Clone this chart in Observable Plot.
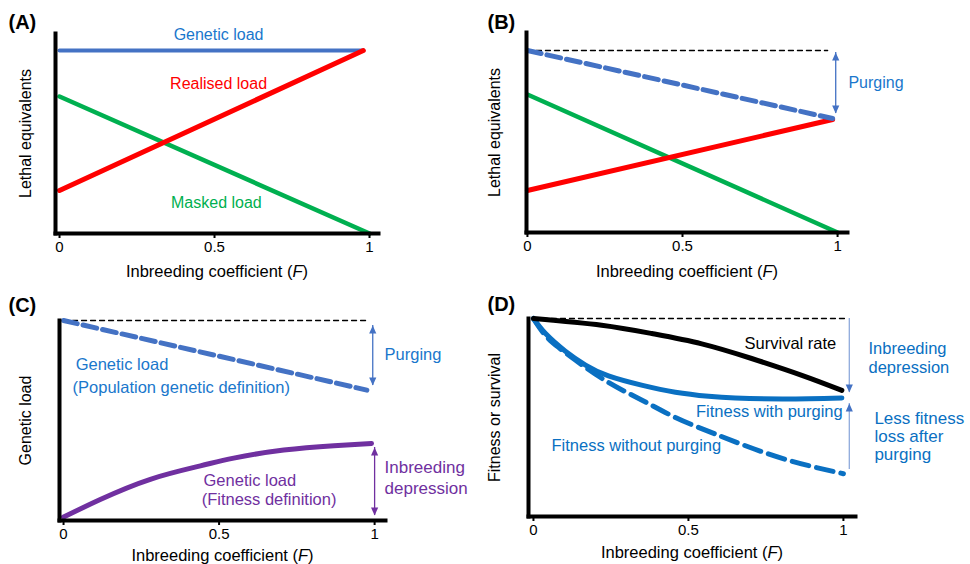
<!DOCTYPE html>
<html><head><meta charset="utf-8">
<script src="https://cdn.jsdelivr.net/npm/d3@7"></script>
<script src="https://cdn.jsdelivr.net/npm/@observablehq/plot@0.6"></script>
<style>
body{margin:0;background:#fff;}
#wrap{position:relative;width:970px;height:564px;overflow:hidden;}
.panel{position:absolute;width:485px;height:282px;}
.panel svg{overflow:visible;}
</style></head><body><div id="wrap"></div>
<script>
const FONT = '"Liberation Sans", Arial, Helvetica, sans-serif';
const F_TICKS = [0, 0.5, 1];
const X_LABEL = "Inbreeding coefficient (F)";

// ---- Panel (A) ----
const A_F = [0, 0.98];
const A_GENETIC = [0.915, 0.915];
const A_REALISED = [0.215, 0.915];
const A_MASKED_F = [0, 1];
const A_MASKED = [0.685, 0];

// ---- Panel (B) ----
const B_F = [0, 0.984];
const B_GENETIC = [0.91, 0.57];
const B_REALISED = [0.21, 0.565];
const B_MASKED_F = [0, 1];
const B_MASKED = [0.69, 0];
const B_REF_F = [0, 0.968];
const B_REF = [0.91, 0.91];
const B_PURGE = [{F: 0.994, top: 0.9, bottom: 0.595}];

// ---- Panel (C) ----
const C_POP_F = [0, 0.975];
const C_POP = [1.0, 0.652];
const C_REF_F = [0, 0.977];
const C_REF = [1.0, 1.0];
const C_FIT_F = [0, 0.118, 0.279, 0.44, 0.547, 0.708, 0.869, 0.99];
const C_FIT = [0.017, 0.105, 0.206, 0.273, 0.312, 0.352, 0.374, 0.385];
const C_PURGE = [{F: 0.994, top: 0.975, bottom: 0.675}];
const C_ID = [{F: 1.0, top: 0.365, bottom: 0.025}];

// ---- Panel (D) ----
const D_SURV_F = [0, 0.22, 0.382, 0.543, 0.704, 0.866, 0.995];
const D_SURV = [1, 0.966, 0.924, 0.872, 0.798, 0.713, 0.637];
const D_WITH_F = [0, 0.039, 0.103, 0.168, 0.242, 0.352, 0.458, 0.565, 0.651, 0.812, 0.995];
const D_WITH = [1, 0.924, 0.835, 0.765, 0.71, 0.662, 0.628, 0.607, 0.598, 0.594, 0.599];
const D_WITHOUT_F = [0, 0.039, 0.081, 0.135, 0.242, 0.352, 0.458, 0.565, 0.651, 0.812, 1.0];
const D_WITHOUT = [1, 0.914, 0.854, 0.79, 0.677, 0.586, 0.5, 0.43, 0.377, 0.289, 0.216];
const D_REF_F = [0, 1.013];
const D_REF = [1, 1];
const D_ID = [{F: 1.019, top: 1.0, bottom: 0.626}];
const D_LESS = [{F: 1.019, top: 0.571, bottom: 0.237}];

// colours
const BLUE = "#4472C4", TBLUE = "#1a77cc", DBLUE = "#0a70c2", RED = "#ff0000",
      GREEN = "#00b050", PURPLE = "#7030a0", LIGHT = "#8faadc";

const tbl = (Fs, vs) => Fs.map((F, i) => ({F, v: vs[i]}));

const tipUp = {draw(ctx, size) { const s = Math.sqrt(size), h = s * 1.0, w = s * 0.9;
  ctx.moveTo(0, 0); ctx.lineTo(-w / 2, h); ctx.lineTo(w / 2, h); ctx.closePath(); }};
const tipDown = {draw(ctx, size) { const s = Math.sqrt(size), h = s * 1.0, w = s * 0.9;
  ctx.moveTo(0, 0); ctx.lineTo(-w / 2, -h); ctx.lineTo(w / 2, -h); ctx.closePath(); }};

function dblArrow(data, color, lineColor) {
  return [
    Plot.ruleX(data, {x: "F", y1: "bottom", y2: "top", stroke: lineColor || color, strokeWidth: 1.3}),
    Plot.dot(data, {x: "F", y: "top", symbol: tipUp, r: 4.5, fill: color, stroke: null}),
    Plot.dot(data, {x: "F", y: "bottom", symbol: tipDown, r: 4.5, fill: color, stroke: null})
  ];
}

function note(list, opts) {
  return Plot.text(list, {x: "F", y: "v", text: "t", lineAnchor: "middle", ...opts});
}

function panel({left, top, m, xDomain, marks, yLabel, yDx, tag, tagDx, tagDy, xDy}) {
  const svg = Plot.plot({
    width: 485, height: 282,
    marginLeft: m[0], marginRight: m[1], marginTop: m[2], marginBottom: m[3],
    x: {domain: xDomain},
    y: {domain: [0, 1], axis: null},
    style: {fontFamily: FONT, background: "transparent", overflow: "visible", color: "#000"},
    marks: [
      ...marks,
      Plot.frame({anchor: "left", strokeWidth: 4, strokeLinecap: "square", stroke: "#000"}),
      Plot.frame({anchor: "bottom", strokeWidth: 4, strokeLinecap: "square", stroke: "#000"}),
      Plot.axisX({ticks: F_TICKS, tickSize: 5, tickPadding: 3, fontSize: 15, strokeWidth: 2,
                  label: null, tickFormat: d => String(d)}),
      Plot.text([X_LABEL], {frameAnchor: "bottom", dy: xDy, fontSize: 16.5, lineAnchor: "middle", textAnchor: "middle"}),
      Plot.text([yLabel], {frameAnchor: "left", rotate: -90, dx: yDx, fontSize: 16, lineAnchor: "middle", textAnchor: "middle"}),
      Plot.text([tag], {frameAnchor: "top-left", dx: tagDx, dy: tagDy, fontSize: 20, fontWeight: "bold",
                        textAnchor: "start", lineAnchor: "middle"})
    ]
  });
  svg.querySelectorAll("text").forEach(t => {
    if (t.textContent === X_LABEL) t.innerHTML = 'Inbreeding coefficient (<tspan font-style="italic">F</tspan>)';
  });
  const div = document.createElement("div");
  div.className = "panel";
  div.style.left = left + "px"; div.style.top = top + "px";
  div.appendChild(svg);
  document.getElementById("wrap").appendChild(div);
}

// (A)
panel({
  left: 0, top: 0, m: [55, 107, 33, 49], xDomain: [-0.013, 1.029], yLabel: "Lethal equivalents", yDx: -30,
  tag: "(A)", tagDx: -47, tagDy: -11, xDy: 38,
  marks: [
    Plot.line(tbl(A_F, A_GENETIC), {x: "F", y: "v", stroke: BLUE, strokeWidth: 4}),
    Plot.line(tbl(A_MASKED_F, A_MASKED), {x: "F", y: "v", stroke: GREEN, strokeWidth: 4.5}),
    Plot.line(tbl(A_F, A_REALISED), {x: "F", y: "v", stroke: RED, strokeWidth: 5}),
    note([{t: "Genetic load", F: 0.513, v: 0.995}], {fill: TBLUE, fontSize: 16}),
    note([{t: "Realised load", F: 0.513, v: 0.75}], {fill: RED, fontSize: 16}),
    note([{t: "Masked load", F: 0.506, v: 0.155}], {fill: GREEN, fontSize: 16})
  ]
});

// (B)
panel({
  left: 485, top: 0, m: [41, 123, 32, 50], xDomain: [-0.003, 1.032], yLabel: "Lethal equivalents", yDx: -32,
  tag: "(B)", tagDx: -39, tagDy: -10, xDy: 39,
  marks: [
    Plot.line(tbl(B_REF_F, B_REF), {x: "F", y: "v", stroke: "#000", strokeWidth: 1.3, strokeDasharray: "5,4"}),
    Plot.line(tbl(B_MASKED_F, B_MASKED), {x: "F", y: "v", stroke: GREEN, strokeWidth: 4.5}),
    Plot.line(tbl(B_F, B_REALISED), {x: "F", y: "v", stroke: RED, strokeWidth: 5}),
    Plot.line(tbl(B_F, B_GENETIC), {x: "F", y: "v", stroke: BLUE, strokeWidth: 5, strokeDasharray: "14,6"}),
    ...dblArrow(B_PURGE, BLUE),
    note([{t: "Purging", F: 1.035, v: 0.75}], {fill: TBLUE, fontSize: 16, textAnchor: "start"})
  ]
});

// (C)
panel({
  left: 0, top: 282, m: [59, 100, 38, 44], xDomain: [-0.013, 1.035], yLabel: "Genetic load", yDx: -34,
  tag: "(C)", tagDx: -51, tagDy: -15, xDy: 35,
  marks: [
    Plot.line(tbl(C_REF_F, C_REF), {x: "F", y: "v", stroke: "#000", strokeWidth: 1.3, strokeDasharray: "5,4"}),
    Plot.line(tbl(C_POP_F, C_POP), {x: "F", y: "v", stroke: BLUE, strokeWidth: 5, strokeDasharray: "14,6"}),
    Plot.line(tbl(C_FIT_F, C_FIT), {x: "F", y: "v", stroke: PURPLE, strokeWidth: 5, curve: "natural"}),
    ...dblArrow(C_PURGE, BLUE),
    ...dblArrow(C_ID, PURPLE),
    note([{t: "Purging", F: 1.032, v: 0.83}], {fill: TBLUE, fontSize: 16.5, textAnchor: "start"}),
    note([{t: "Genetic load", F: 0.039, v: 0.78}, {t: "(Population genetic definition)", F: 0.029, v: 0.665}],
         {fill: TBLUE, fontSize: 16.5, textAnchor: "start"}),
    note([{t: "Genetic load", F: 0.45, v: 0.2}, {t: "(Fitness definition)", F: 0.444, v: 0.105}],
         {fill: PURPLE, fontSize: 16.5, textAnchor: "start"}),
    note([{t: "Inbreeding", F: 1.032, v: 0.265}, {t: "depression", F: 1.032, v: 0.16}],
         {fill: PURPLE, fontSize: 17, textAnchor: "start"})
  ]
});

// (D)
panel({
  left: 485, top: 282, m: [43, 115, 36, 48], xDomain: [-0.016, 1.039], yLabel: "Fitness or survival", yDx: -34,
  tag: "(D)", tagDx: -41, tagDy: -14, xDy: 36,
  marks: [
    Plot.line(tbl(D_REF_F, D_REF), {x: "F", y: "v", stroke: "#000", strokeWidth: 1.3, strokeDasharray: "5,4"}),
    Plot.line(tbl(D_WITHOUT_F, D_WITHOUT), {x: "F", y: "v", stroke: DBLUE, strokeWidth: 5, strokeDasharray: "17,8", curve: "natural"}),
    Plot.line(tbl(D_WITH_F, D_WITH), {x: "F", y: "v", stroke: DBLUE, strokeWidth: 5, curve: "natural"}),
    Plot.line(tbl(D_SURV_F, D_SURV), {x: "F", y: "v", stroke: "#000", strokeWidth: 5, curve: "natural"}),
    Plot.ruleX(D_ID, {x: "F", y1: "bottom", y2: "top", stroke: LIGHT, strokeWidth: 1.3}),
    Plot.dot(D_ID, {x: "F", y: "bottom", symbol: tipDown, r: 4.5, fill: BLUE, stroke: null}),
    Plot.ruleX(D_LESS, {x: "F", y1: "bottom", y2: "top", stroke: LIGHT, strokeWidth: 1.3}),
    Plot.dot(D_LESS, {x: "F", y: "top", symbol: tipUp, r: 4.5, fill: BLUE, stroke: null}),
    note([{t: "Survival rate", F: 0.829, v: 0.874}], {fill: "#000", fontSize: 16.5}),
    note([{t: "Fitness with purging", F: 0.761, v: 0.53}], {fill: DBLUE, fontSize: 16.5}),
    note([{t: "Fitness without purging", F: 0.332, v: 0.359}], {fill: DBLUE, fontSize: 16.5}),
    note([{t: "Inbreeding", F: 1.081, v: 0.848}, {t: "depression", F: 1.081, v: 0.752}],
         {fill: DBLUE, fontSize: 16.5, textAnchor: "start"}),
    note([{t: "Less fitness", F: 1.1, v: 0.495}, {t: "loss after", F: 1.1, v: 0.404}, {t: "purging", F: 1.1, v: 0.313}],
         {fill: DBLUE, fontSize: 17, textAnchor: "start"})
  ]
});
</script></body></html>
